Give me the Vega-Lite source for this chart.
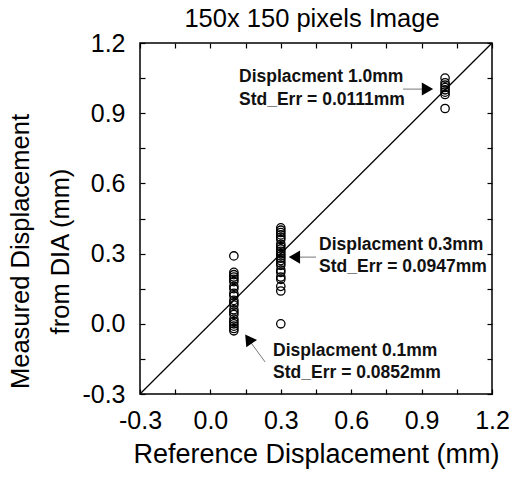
{
  "$schema": "https://vega.github.io/schema/vega-lite/v6.json",
  "width": 352,
  "height": 351,
  "autosize": {"type": "none"},
  "padding": {"left": 140, "top": 43, "right": 20, "bottom": 86},
  "background": "white",
  "title": {"text": "150x 150 pixels Image", "fontSize": 25.5, "fontWeight": "normal", "font": "Liberation Sans", "color": "black", "offset": -1, "frame": "group", "dx": -4},
  "config": {
    "view": {"stroke": "black", "strokeWidth": 1.5},
    "font": "Liberation Sans",
    "axis": {"domain": false, "grid": false, "tickColor": "black", "tickWidth": 1.2, "labelColor": "black", "titleColor": "black", "labelFont": "Liberation Sans", "titleFont": "Liberation Sans", "titleFontWeight": "normal"}
  },
  "datasets": {
    "pts": [
      {"x": 0.1, "y": 0.29}, {"x": 0.1, "y": 0.22}, {"x": 0.1, "y": 0.21}, {"x": 0.1, "y": 0.2}, {"x": 0.1, "y": 0.19}, {"x": 0.1, "y": 0.18}, {"x": 0.1, "y": 0.16}, {"x": 0.1, "y": 0.15}, {"x": 0.1, "y": 0.13}, {"x": 0.1, "y": 0.12}, {"x": 0.1, "y": 0.1}, {"x": 0.1, "y": 0.09}, {"x": 0.1, "y": 0.08}, {"x": 0.1, "y": 0.06}, {"x": 0.1, "y": 0.05}, {"x": 0.1, "y": 0.04}, {"x": 0.1, "y": 0.02}, {"x": 0.1, "y": 0.01}, {"x": 0.1, "y": 0.0}, {"x": 0.1, "y": -0.01}, {"x": 0.1, "y": -0.02}, {"x": 0.1, "y": -0.03},
      {"x": 0.3, "y": 0.41}, {"x": 0.3, "y": 0.4}, {"x": 0.3, "y": 0.39}, {"x": 0.3, "y": 0.38}, {"x": 0.3, "y": 0.37}, {"x": 0.3, "y": 0.36}, {"x": 0.3, "y": 0.34}, {"x": 0.3, "y": 0.33}, {"x": 0.3, "y": 0.32}, {"x": 0.3, "y": 0.31}, {"x": 0.3, "y": 0.3}, {"x": 0.3, "y": 0.29}, {"x": 0.3, "y": 0.28}, {"x": 0.3, "y": 0.27}, {"x": 0.3, "y": 0.26}, {"x": 0.3, "y": 0.25}, {"x": 0.3, "y": 0.23}, {"x": 0.3, "y": 0.22}, {"x": 0.3, "y": 0.2}, {"x": 0.3, "y": 0.19}, {"x": 0.3, "y": 0.16}, {"x": 0.3, "y": 0.14}, {"x": 0.3, "y": 0.0},
      {"x": 1.0, "y": 1.05}, {"x": 1.0, "y": 1.03}, {"x": 1.0, "y": 1.02}, {"x": 1.0, "y": 1.01}, {"x": 1.0, "y": 1.0}, {"x": 1.0, "y": 0.99}, {"x": 1.0, "y": 0.98}, {"x": 1.0, "y": 0.92}
    ],
    "diag": [{"x": -0.3, "y": -0.3}, {"x": 1.2, "y": 1.2}],
    "arrows": [
      {"x": 0.821, "y": 1.003, "x2": 0.92, "y2": 1.003},
      {"x": 0.45, "y": 0.285, "x2": 0.36, "y2": 0.285},
      {"x": 0.233, "y": -0.163, "x2": 0.165, "y2": -0.07}
    ],
    "heads": [
      {"x": 0.925, "y": 1.003, "dir": "right"},
      {"x": 0.358, "y": 0.285, "dir": "left"},
      {"x": 0.162, "y": -0.065, "dir": "upleft"}
    ],
    "labels": [
      {"x": 0.122, "y": 1.055, "text": "Displacment 1.0mm"},
      {"x": 0.122, "y": 0.956, "text": "Std_Err = 0.0111mm"},
      {"x": 0.463, "y": 0.337, "text": "Displacment 0.3mm"},
      {"x": 0.463, "y": 0.243, "text": "Std_Err = 0.0947mm"},
      {"x": 0.267, "y": -0.116, "text": "Displacment 0.1mm"},
      {"x": 0.267, "y": -0.21, "text": "Std_Err = 0.0852mm"}
    ]
  },
  "resolve": {"axis": {"x": "independent", "y": "independent"}},
  "layer": [
    {
      "data": {"name": "diag"},
      "mark": {"type": "line", "color": "black", "strokeWidth": 1.3, "clip": true},
      "encoding": {
        "x": {"field": "x", "type": "quantitative", "scale": {"domain": [-0.3, 1.2], "nice": false, "zero": false},
          "axis": {"orient": "bottom", "values": [-0.3, -0.15, 0, 0.15, 0.3, 0.45, 0.6, 0.75, 0.9, 1.05, 1.2], "labelExpr": "abs(round(datum.value*100)) % 30 == 0 ? replace(format(datum.value, '.1f'), '\u2212', '-') : ''", "tickSize": -5, "labelPadding": 19, "labelFontSize": 25, "labelFlush": false, "labelOverlap": false,
            "title": "Reference Displacement (mm)", "titleFontSize": 27, "titleX": 176, "titleY": 68, "titleBaseline": "alphabetic"}},
        "y": {"field": "y", "type": "quantitative", "scale": {"domain": [-0.3, 1.2], "nice": false, "zero": false},
          "axis": {"orient": "left", "values": [-0.3, -0.15, 0, 0.15, 0.3, 0.45, 0.6, 0.75, 0.9, 1.05, 1.2], "labelExpr": "abs(round(datum.value*100)) % 30 == 0 ? replace(format(datum.value, '.1f'), '\u2212', '-') : ''", "tickSize": -5, "labelPadding": 20, "labelFontSize": 25, "labelFlush": false, "labelOverlap": false,
            "title": ["Measured Displacement", "from DIA (mm)"], "titleFontSize": 25.5, "titleLineHeight": 40, "titleAngle": -90, "titleX": -132, "titleY": 208, "titleBaseline": "top", "titleAlign": "center"}}
      }
    },
    {
      "data": {"name": "pts"},
      "mark": {"type": "point", "shape": "circle", "filled": false, "stroke": "black", "strokeWidth": 1.3, "size": 70, "opacity": 1},
      "encoding": {
        "x": {"field": "x", "type": "quantitative", "scale": {"domain": [-0.3, 1.2], "nice": false, "zero": false},
          "axis": {"orient": "top", "values": [-0.3, -0.15, 0, 0.15, 0.3, 0.45, 0.6, 0.75, 0.9, 1.05, 1.2], "labels": false, "tickSize": -5, "title": null}},
        "y": {"field": "y", "type": "quantitative", "scale": {"domain": [-0.3, 1.2], "nice": false, "zero": false},
          "axis": {"orient": "right", "values": [-0.3, -0.15, 0, 0.15, 0.3, 0.45, 0.6, 0.75, 0.9, 1.05, 1.2], "labels": false, "tickSize": -5, "title": null}}
      }
    },
    {
      "data": {"name": "arrows"},
      "mark": {"type": "rule", "color": "#777777", "strokeWidth": 1},
      "encoding": {
        "x": {"field": "x", "type": "quantitative", "axis": null},
        "y": {"field": "y", "type": "quantitative", "axis": null},
        "x2": {"field": "x2"},
        "y2": {"field": "y2"}
      }
    },
    {
      "data": {"name": "heads"},
      "transform": [{"filter": "datum.dir == 'right'"}],
      "mark": {"type": "point", "shape": "triangle-right", "filled": true, "color": "black", "size": 170, "opacity": 1},
      "encoding": {
        "x": {"field": "x", "type": "quantitative", "axis": null},
        "y": {"field": "y", "type": "quantitative", "axis": null}
      }
    },
    {
      "data": {"name": "heads"},
      "transform": [{"filter": "datum.dir == 'left'"}],
      "mark": {"type": "point", "shape": "triangle-left", "filled": true, "color": "black", "size": 170, "opacity": 1},
      "encoding": {
        "x": {"field": "x", "type": "quantitative", "axis": null},
        "y": {"field": "y", "type": "quantitative", "axis": null}
      }
    },
    {
      "data": {"name": "heads"},
      "transform": [{"filter": "datum.dir == 'upleft'"}],
      "mark": {"type": "point", "shape": "triangle-up", "angle": 325, "filled": true, "color": "black", "size": 170, "opacity": 1},
      "encoding": {
        "x": {"field": "x", "type": "quantitative", "axis": null},
        "y": {"field": "y", "type": "quantitative", "axis": null}
      }
    },
    {
      "data": {"name": "labels"},
      "mark": {"type": "text", "align": "left", "baseline": "middle", "fontSize": 17.5, "fontWeight": "bold", "font": "Liberation Sans", "color": "#111111"},
      "encoding": {
        "x": {"field": "x", "type": "quantitative", "axis": null},
        "y": {"field": "y", "type": "quantitative", "axis": null},
        "text": {"field": "text"}
      }
    }
  ]
}
